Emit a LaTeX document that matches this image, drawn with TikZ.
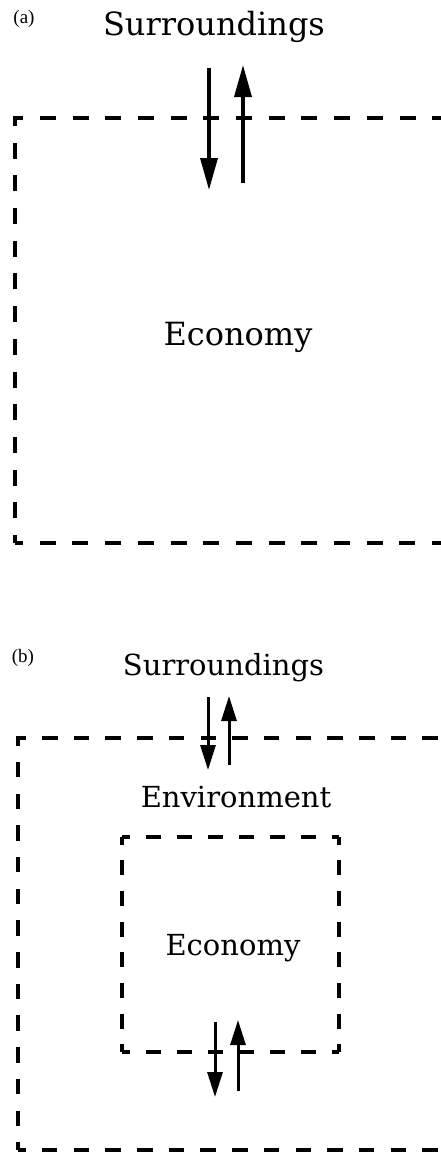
\documentclass[tikz,border=0pt]{standalone}
\usepackage{fontspec}
\setmainfont{DejaVu Serif}
\newfontfamily\labfont{Liberation Serif}
\usetikzlibrary{arrows.meta}
\begin{document}
\begin{tikzpicture}[x=1pt,y=-1pt,
  bigtxt/.style={anchor=base,inner sep=0pt,font=\fontsize{32}{38}\selectfont},
  midtxt/.style={anchor=base,inner sep=0pt,font=\fontsize{29}{35}\selectfont},
  labtxt/.style={anchor=base,inner sep=0pt,font=\labfont\fontsize{19}{22}\selectfont},
  boxa/.style={line width=4pt,dash pattern=on 16pt off 16.7pt,dash phase=8pt},
  boxb/.style={line width=3.6pt,dash pattern=on 15.5pt off 16.2pt,dash phase=7.75pt},
  boxc/.style={line width=3.6pt,dash pattern=on 15pt off 16pt,dash phase=7.5pt},
  boxcv/.style={line width=3.6pt,dash pattern=on 15pt off 15.7pt,dash phase=7.5pt},
  arra/.style={line width=3.6pt,-{Triangle[length=32pt,width=17pt]}},
  arrb/.style={line width=3pt,-{Triangle[length=25pt,width=15pt]}}]
\useasboundingbox (0,0) rectangle (441,1156);
% ---------- (a) ----------
\node[labtxt] (la) at (24,24) {(a)};
\node[bigtxt] (sa) at (214,36) {Surroundings};
\node[bigtxt] (ea) at (238,345) {Economy};
\coordinate (a1) at (15,118);
\coordinate (a2) at (15,543);
\coordinate (a3) at (441,118);
\coordinate (a4) at (441,543);
\draw[boxa] (a2) -- (a1) -- (a3);
\draw[boxa] (a2) -- (a4);
\coordinate (ad1) at (209,68);
\coordinate (ad2) at (209,190);
\coordinate (au1) at (243,183);
\coordinate (au2) at (243,65);
\draw[arra] (ad1) -- (ad2);
\draw[arra] (au1) -- (au2);
% ---------- (b) ----------
\node[labtxt] (lb) at (23,662) {(b)};
\node[midtxt] (sb) at (223.5,675) {Surroundings};
\node[midtxt] (env) at (236,807) {Environment};
\node[midtxt] (eb) at (233,955) {Economy};
\coordinate (b1) at (18,738);
\coordinate (b2) at (18,1150);
\coordinate (b3) at (441,738);
\coordinate (b4) at (441,1150);
\draw[boxb] (b2) -- (b1) -- (b3);
\draw[boxb] (b2) -- (b4);
% inner box
\coordinate (c1) at (122,837);
\coordinate (c2) at (339,837);
\coordinate (c3) at (339,1052);
\coordinate (c4) at (122,1052);
\draw[boxc] (c1) -- (c2);
\draw[boxc] (c4) -- (c3);
\draw[boxcv] (c1) -- (c4);
\draw[boxcv] (c2) -- (c3);
% arrows
\coordinate (bd1) at (208,697);
\coordinate (bd2) at (208,770);
\coordinate (bu1) at (229,765);
\coordinate (bu2) at (229,696);
\draw[arrb] (bd1) -- (bd2);
\draw[arrb] (bu1) -- (bu2);
\coordinate (cd1) at (215,1022);
\coordinate (cd2) at (215,1097);
\coordinate (cu1) at (238,1091);
\coordinate (cu2) at (238,1020);
\draw[arrb] (cd1) -- (cd2);
\draw[arrb] (cu1) -- (cu2);
\end{tikzpicture}
\end{document}
